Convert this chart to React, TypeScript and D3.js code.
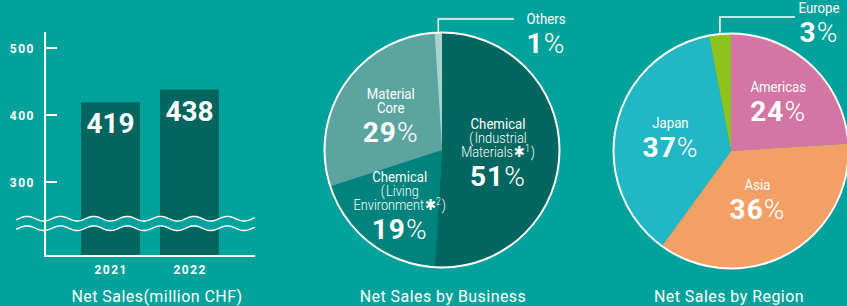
import * as d3 from "d3";

// ---- data ----
const years = ["2021", "2022"];
const netSales = [419, 438]; // million CHF
const yTicks = [300, 400, 500];

const businessLabels = [
  "Chemical\n(Industrial\nMaterials*1)",
  "Chemical\n(Living\nEnvironment*2)",
  "Material\nCore",
  "Others",
];
const businessShares = [51, 19, 29, 1];

const regionLabels = ["Americas", "Asia", "Japan", "Europe"];
const regionShares = [24, 36, 37, 3];

// ---- styling / layout ----
const W = 847;
const H = 306;
const BG = "#00a29b";
const BAR = "#00665f";
const FONT = "Roboto, 'Liberation Sans', sans-serif";
const businessColors = ["#00665f", "#00837d", "#5ba49f", "#a8d3cf"];
const regionColors = ["#d476a4", "#f3a067", "#22b7c4", "#8dc21f"];

const R = 117.5;
const PIE1 = { cx: 442, cy: 150 };
const PIE2 = { cx: 731, cy: 151 };
// radius of the label block centre inside each slice (null = outside with a leader)
const businessLabelR = [56, 69, 62, null];
const regionLabelR = [69, 55, 62, null];
const businessOutside = { leaderY: 19, endX: 514, textX: 546, nameY: 24 };
const regionOutside = { leaderY: 17, endX: 795, textX: 819, nameY: 13 };

const LINE = 14;
const PCT_GAP = 29;

function lineContent(text: string) {
  const m = text.match(/^(.*)\*(\d)(\)?)$/);
  if (!m) return text.replace("(", "(\u200A");
  return (
    <>
      {m[1]}
      <tspan fontFamily="'DejaVu Sans', sans-serif" fontSize={15} fontWeight={400} dx={1}>✱</tspan>
      <tspan fontSize={10} dy={-5}>{m[2]}</tspan>
      <tspan dy={5} dx={1}>{m[3]}</tspan>
    </>
  );
}

function Names({ x, y, lines }: { x: number; y: number; lines: string[] }) {
  let inParen = false;
  return (
    <text
      transform={`translate(${x},${y}) scale(0.88,1)`}
      textAnchor="middle"
      fill="#fff"
      fontFamily={FONT}
      fontSize={15}
    >
      {lines.map((t, i) => {
        if (t.startsWith("(")) inParen = true;
        const light = inParen;
        if (t.endsWith(")")) inParen = false;
        return (
          <tspan key={i} x={0} y={i * LINE} fontWeight={light ? 300 : 400} fontSize={light ? 14.5 : 15}>
            {lineContent(t)}
          </tspan>
        );
      })}
    </text>
  );
}

function Pct({ x, y, v }: { x: number; y: number; v: number }) {
  return (
    <text x={x} y={y} textAnchor="middle" fill="#fff" fontFamily={FONT} fontSize={28} letterSpacing={1}>
      <tspan fontWeight={700}>{v}</tspan>
      <tspan fontWeight={300}>%</tspan>
    </text>
  );
}

function LabelBlock({ x, y, label, v, centred }: { x: number; y: number; label: string; v: number; centred: boolean }) {
  const lines = label.split("\n");
  const b0 = centred ? y - 7 * (lines.length - 1) - 9 : y;
  return (
    <g>
      <Names x={x} y={b0} lines={lines} />
      <Pct x={x} y={b0 + (lines.length - 1) * LINE + PCT_GAP} v={v} />
    </g>
  );
}

function Pie({
  cx, cy, shares, labels, colors, labelR, outside,
}: {
  cx: number; cy: number; shares: number[]; labels: string[]; colors: string[];
  labelR: (number | null)[];
  outside: { leaderY: number; endX: number; textX: number; nameY: number };
}) {
  const arcs = d3.pie<number>().sort(null).value((d) => d)(shares);
  const arc = d3.arc<d3.PieArcDatum<number>>().innerRadius(0).outerRadius(R);
  return (
    <g>
      <g transform={`translate(${cx},${cy})`}>
        {arcs.map((a, i) => (
          <path key={i} d={arc(a) ?? ""} fill={colors[i]} />
        ))}
        <circle r={R} fill="none" stroke="#fff" strokeWidth={2} />
      </g>
      {arcs.map((a, i) => {
        const mid = (a.startAngle + a.endAngle) / 2;
        const lr = labelR[i];
        if (lr != null) {
          const [lx, ly] = d3.arc<any>().innerRadius(lr).outerRadius(lr).centroid({
            startAngle: a.startAngle,
            endAngle: a.endAngle,
          });
          return <LabelBlock key={i} x={cx + lx} y={cy + ly} label={labels[i]} v={shares[i]} centred />;
        }
        const px = cx + R * Math.sin(mid);
        const py = cy - R * Math.cos(mid);
        return (
          <g key={i}>
            <polyline
              points={`${px},${py} ${px},${outside.leaderY} ${outside.endX},${outside.leaderY}`}
              fill="none"
              stroke="#fff"
              strokeWidth={1.5}
            />
            <LabelBlock x={outside.textX} y={outside.nameY} label={labels[i]} v={shares[i]} centred={false} />
          </g>
        );
      })}
    </g>
  );
}

function Bars() {
  const axisX = 45;
  const baseY = 255;
  const y = d3.scaleLinear().domain([300, 500]).range([182, 48]);
  const x = d3.scaleBand<string>().domain(years).range([81, 219]).paddingInner(0.2532);

  // break marks
  const xs = d3.range(16, 256, 1);
  const crest = 27;
  const period = 33.4;
  const amp = 2.3;
  const wave = (c: number) => (px: number) => c - amp * Math.cos((2 * Math.PI * (px - crest)) / period);
  const up = wave(218.7);
  const lo = wave(228.2);
  const area = d3.area<number>().x((d) => d).y0(up).y1(lo)(xs) ?? "";
  const lineU = d3.line<number>().x((d) => d).y(up)(xs) ?? "";
  const lineL = d3.line<number>().x((d) => d).y(lo)(xs) ?? "";

  return (
    <g fontFamily={FONT}>
      {years.map((yr, i) => (
        <rect key={yr} x={x(yr)} y={y(netSales[i])} width={x.bandwidth()} height={baseY - y(netSales[i])} fill={BAR} />
      ))}
      {years.map((yr, i) => (
        <text
          key={yr}
          x={(x(yr) ?? 0) + x.bandwidth() / 2}
          y={y(netSales[i]) + 31}
          textAnchor="middle"
          fill="#fff"
          fontSize={28}
          fontWeight={700}
        >
          {netSales[i]}
        </text>
      ))}
      <path d={area} fill={BG} />
      <path d={lineU} fill="none" stroke="#fff" strokeWidth={1.4} />
      <path d={lineL} fill="none" stroke="#fff" strokeWidth={1.4} />

      <line x1={axisX} x2={axisX} y1={32} y2={257} stroke="#fff" strokeWidth={2} />
      <line x1={axisX - 1} x2={255} y1={256} y2={256} stroke="#fff" strokeWidth={2} />
      {yTicks.map((t) => (
        <g key={t}>
          <line x1={axisX} x2={axisX + 12} y1={y(t)} y2={y(t)} stroke="#fff" strokeWidth={2} />
          <text x={35} y={y(t) + 5} textAnchor="end" fill="#fff" fontSize={12} fontWeight={700} letterSpacing={1.5}>
            {t}
          </text>
        </g>
      ))}
      {years.map((yr) => (
        <text
          key={yr}
          x={(x(yr) ?? 0) + x.bandwidth() / 2 + 0.75}
          y={274}
          textAnchor="middle"
          fill="#fff"
          fontSize={12}
          fontWeight={700}
          letterSpacing={1.5}
        >
          {yr}
        </text>
      ))}
    </g>
  );
}

function Title({ x, text }: { x: number; text: string }) {
  return (
    <text x={x} y={302} textAnchor="middle" fill="#fff" fontFamily={FONT} fontSize={16} letterSpacing={0.45}>
      {text}
    </text>
  );
}

export default function App() {
  return (
    <svg
      width={W}
      height={H}
      viewBox={`0 0 ${W} ${H}`}
      style={{ position: "absolute", left: 0, top: 0, display: "block" }}
    >
      <rect width={W} height={H} fill={BG} />
      <Bars />
      <Pie
        cx={PIE1.cx}
        cy={PIE1.cy}
        shares={businessShares}
        labels={businessLabels}
        colors={businessColors}
        labelR={businessLabelR}
        outside={businessOutside}
      />
      <Pie
        cx={PIE2.cx}
        cy={PIE2.cy}
        shares={regionShares}
        labels={regionLabels}
        colors={regionColors}
        labelR={regionLabelR}
        outside={regionOutside}
      />
      <Title x={157} text="Net Sales(million CHF)" />
      <Title x={443} text="Net Sales by Business" />
      <Title x={729} text="Net Sales by Region" />
    </svg>
  );
}
